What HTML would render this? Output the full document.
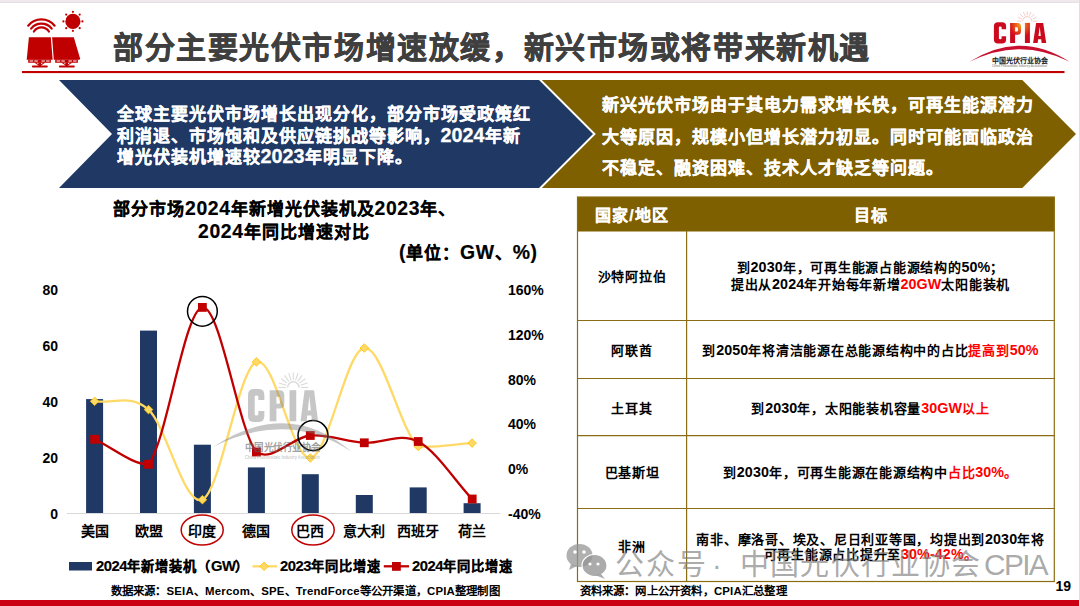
<!DOCTYPE html>
<html lang="zh-CN">
<head>
<meta charset="utf-8">
<style>
html,body{margin:0;padding:0;}
body{width:1080px;height:606px;overflow:hidden;position:relative;background:#fff;font-family:"Liberation Sans",sans-serif;font-weight:bold;color:#000;}
.a{position:absolute;white-space:nowrap;}
#title{left:113px;top:28px;font-size:30px;letter-spacing:1.58px;line-height:40px;color:#3f3f3f;-webkit-text-stroke:0.6px #3f3f3f;}
.bl{position:absolute;white-space:nowrap;left:116.5px;font-size:17px;letter-spacing:1px;line-height:22px;color:#fff;-webkit-text-stroke:0.3px #fff;}
.gl{position:absolute;white-space:nowrap;left:601.5px;font-size:17px;letter-spacing:1px;line-height:22px;color:#fff;-webkit-text-stroke:0.3px #fff;}
.ct{position:absolute;white-space:nowrap;font-size:17px;letter-spacing:1px;line-height:20px;color:#000;-webkit-text-stroke:0.2px #000;}
.yl{position:absolute;white-space:nowrap;font-size:14px;line-height:16px;color:#000;}
.yr{position:absolute;white-space:nowrap;font-size:14px;line-height:16px;color:#000;left:508px;}
.cl{position:absolute;white-space:nowrap;font-size:14px;line-height:16px;top:523px;width:60px;text-align:center;color:#000;}
.lg{position:absolute;white-space:nowrap;font-size:13.2px;letter-spacing:1px;line-height:18px;top:558px;color:#000;-webkit-text-stroke:0.2px #000;}
.src{position:absolute;white-space:nowrap;font-size:11.4px;letter-spacing:0.2px;line-height:14px;color:#000;}
.th{position:absolute;white-space:nowrap;font-size:16px;letter-spacing:1px;line-height:18px;color:#fff;text-align:center;-webkit-text-stroke:0.25px #fff;}
.tc{position:absolute;white-space:nowrap;font-size:13px;letter-spacing:0.75px;line-height:17px;color:#000;text-align:center;}
.r{color:#ff0000;}
.db{line-height:0;font-size:19.8px;letter-spacing:0px;}
.dc{line-height:0;font-size:19.4px;letter-spacing:0.6px;}
.dt{line-height:0;font-size:14.3px;letter-spacing:0.1px;}
.dl{line-height:0;font-size:14.8px;letter-spacing:-0.5px;}

.wm{position:absolute;white-space:nowrap;font-size:29px;line-height:32px;color:rgba(128,128,128,0.68);font-weight:normal;top:548.5px;}
</style>
</head>
<body>
<!-- top and right frame strips -->
<div class="a" style="left:0;top:0;width:1080px;height:2px;background:#efe9ed;"></div>
<div class="a" style="left:0;top:2px;width:1080px;height:1px;background:#e6e0e3;"></div>
<div class="a" style="left:1079px;top:0;width:1px;height:606px;background:#e2dde0;"></div>

<svg width="1080" height="606" viewBox="0 0 1080 606" style="position:absolute;left:0;top:0">
  <defs>
    <radialGradient id="cpg" cx="1021" cy="25" r="17" gradientUnits="userSpaceOnUse">
      <stop offset="0" stop-color="#f7a51c"/>
      <stop offset="0.35" stop-color="#e8561a"/>
      <stop offset="0.7" stop-color="#d40c1e"/>
      <stop offset="1" stop-color="#cc0a1e"/>
    </radialGradient>
    <g id="cpia">
    <path fill-rule="evenodd" d="M997.9,22.2 H1002.1 Q1006.1,22.2 1006.1,26.2 V29.3 H1001.6 V27 Q1001.6,26.4 1000.2,26.4 Q998.9,26.4 998.9,27 V38.6 Q998.9,39.2 1000.2,39.2 Q1001.6,39.2 1001.6,38.6 V36.3 H1006.1 V39.4 Q1006.1,43.4 1002.1,43.4 H997.9 Q993.9,43.4 993.9,39.4 V26.2 Q993.9,22.2 997.9,22.2 Z"/>
    <path fill-rule="evenodd" d="M1010.1,22.9 H1017.5 Q1021,22.9 1021,26.4 V31.3 Q1021,34.8 1017.5,34.8 H1015.1 V43 H1010.1 Z M1015.1,27.2 V31.6 H1016.9 Q1017.9,31.6 1017.9,30.6 V28.2 Q1017.9,27.2 1016.9,27.2 Z"/>
    <rect x="1024.9" y="22.9" width="5" height="20.1"/>
    <path fill-rule="evenodd" d="M1036.1,22.9 H1043.2 L1046.2,43 H1041.6 L1041.2,39.3 H1038.1 L1037.7,43 H1033.1 Z M1038.5,36 H1040.8 L1039.7,26.8 Z"/>
    </g>
  </defs>
  <!-- header icon -->
  <g fill="#c00000">
    <circle cx="72.9" cy="21.4" r="7.6"/>
    <circle cx="72.9" cy="11.8" r="1.1"/><circle cx="82.4" cy="21.4" r="1.1"/>
    <circle cx="72.9" cy="30.8" r="1.1"/><circle cx="63.4" cy="21.4" r="1.1"/>
    <circle cx="66.2" cy="14.6" r="1.1"/><circle cx="79.7" cy="14.6" r="1.1"/>
    <circle cx="66.2" cy="28.2" r="1.1"/><circle cx="79.7" cy="28.2" r="1.1"/>
    <path d="M28.9,37.2 L50.8,37.2 L52.7,59.7 L26.7,59.7 Z"/>
    <path d="M52.1,37.2 L73.8,37.2 L80.1,58.6 L79.6,59.7 L53.8,59.7 Z"/>
    <path fill-rule="evenodd" d="M28.2,59.4 H50.9 V62.7 H28.2 Z M29.6,60.4 H33.2 V61.6 H29.6 Z M34.4,60.4 H37.8 V61.6 H34.4 Z M41.5,60.4 H44.9 V61.6 H41.5 Z M46.1,60.4 H49.6 V61.6 H46.1 Z"/>
    <path d="M34.2,62.5 L36.0,62.5 L39.9,65.2 L38.6,65.6 Z"/>
    <path d="M45.4,62.5 L43.6,62.5 L39.7,65.2 L41.0,65.6 Z"/>
    <rect x="38.3" y="62.5" width="2.8" height="3.5"/>
    <rect x="31.9" y="65.6" width="15.9" height="1.9" rx="0.9"/>
    <path fill-rule="evenodd" d="M55.2,59.4 H77.9 V62.7 H55.2 Z M56.6,60.4 H60.2 V61.6 H56.6 Z M61.4,60.4 H64.8 V61.6 H61.4 Z M68.5,60.4 H71.9 V61.6 H68.5 Z M73.1,60.4 H76.6 V61.6 H73.1 Z"/>
    <path d="M61.2,62.5 L63.0,62.5 L66.9,65.2 L65.6,65.6 Z"/>
    <path d="M72.4,62.5 L70.6,62.5 L66.7,65.2 L68.0,65.6 Z"/>
    <rect x="65.3" y="62.5" width="2.8" height="3.5"/>
    <rect x="58.9" y="65.6" width="15.9" height="1.9" rx="0.9"/>
  </g>
  <g fill="none" stroke="#c00000" stroke-width="2.2" stroke-linecap="round">
    <path d="M28.2,25.7 A17,17 0 0 1 54.6,25.7"/>
    <path d="M31.1,28.6 A13,13 0 0 1 51.7,28.6"/>
    <path d="M33.9,31.5 A9,9 0 0 1 48.9,31.5"/>
  </g>
  <!-- title underline -->
  <rect x="22" y="71" width="1042.5" height="2.1" fill="#c00000"/>

  <!-- CPIA logo -->
  <g stroke="#ec9a9a" stroke-width="0.6" fill="none" opacity="0.85">
    <path d="M1022.6,21.2 A4.6,4.6 0 0 1 1031.8,21.2"/>
    <line x1="1021.4" y1="21.2" x2="1017.2" y2="21.2"/>
    <line x1="1021.8" y1="19.0" x2="1018.0" y2="17.4"/>
    <line x1="1023.1" y1="17.1" x2="1020.1" y2="14.1"/>
    <line x1="1025.0" y1="15.8" x2="1023.4" y2="12.0"/>
    <line x1="1027.2" y1="15.4" x2="1027.2" y2="11.2"/>
    <line x1="1029.4" y1="15.8" x2="1031.0" y2="12.0"/>
    <line x1="1031.3" y1="17.1" x2="1034.3" y2="14.1"/>
    <line x1="1032.6" y1="19.0" x2="1036.4" y2="17.4"/>
    <line x1="1033.0" y1="21.2" x2="1037.2" y2="21.2"/>
  </g>
  <use href="#cpia" fill="url(#cpg)"/>
  <path d="M969.5,61.8 Q1020,29.5 1069.8,61.8 Q1020,36.5 969.5,61.8 Z" fill="#c8102e"/>
  <text x="991.5" y="62.5" font-family="Liberation Sans" font-weight="bold" font-size="7" textLength="56" lengthAdjust="spacingAndGlyphs" fill="#222">中国光伏行业协会</text>
  <text x="992" y="66.8" font-family="Liberation Sans" font-size="3" textLength="55" lengthAdjust="spacingAndGlyphs" fill="#999">China Photovoltaic Industry Association</text>

  <!-- banners -->
  <polygon points="541.8,80 1022.3,80 1076,134 1022.3,188 541.8,188 595.8,134" fill="#7f6000"/>
  <polygon points="59,80 539,80 593,134 539,188 59,188 112,134" fill="#1f3864"/>

  <!-- chart -->
<rect x="86.1" y="399.1" width="17" height="114.4" fill="#1f3864"/>
<rect x="140.0" y="330.6" width="17" height="182.9" fill="#1f3864"/>
<rect x="193.9" y="444.7" width="17" height="68.8" fill="#1f3864"/>
<rect x="247.9" y="467.4" width="17" height="46.1" fill="#1f3864"/>
<rect x="301.8" y="474.2" width="17" height="39.3" fill="#1f3864"/>
<rect x="355.8" y="495.0" width="17" height="18.5" fill="#1f3864"/>
<rect x="409.7" y="487.4" width="17" height="26.1" fill="#1f3864"/>
<rect x="463.6" y="503.2" width="17" height="10.3" fill="#1f3864"/>
<line x1="67" y1="513.5" x2="500" y2="513.5" stroke="#d9d9d9" stroke-width="1"/>
  <path d="M94.6,401.3 C112.5,404.1 130.5,393.2 148.5,409.6 C166.5,426.0 184.5,507.6 202.4,499.7 C220.4,491.8 238.4,368.8 256.4,361.9 C274.4,354.9 292.3,460.3 310.3,458.0 C328.3,455.7 346.3,349.9 364.3,348.0 C382.2,346.1 400.2,430.5 418.2,446.4 C434.2,447.9 454.2,444.2 472.1,443.1" fill="none" stroke="#ffd966" stroke-width="2.3"/>
  <path d="M94.6,439.3 C112.5,447.6 132.5,464.8 148.5,464.3 C166.5,442.3 184.5,309.4 202.4,307.4 C220.4,305.3 238.4,430.6 256.4,452.0 C271.4,463.0 292.3,437.0 310.3,435.5 C328.3,434.0 346.3,441.8 364.3,442.8 C382.2,443.8 400.2,432.1 418.2,441.5 C436.2,450.9 454.2,479.8 472.1,499.0" fill="none" stroke="#c00000" stroke-width="2.3"/>
<path d="M94.6,397.0 L98.9,401.3 L94.6,405.6 L90.3,401.3 Z" fill="#ffd966" stroke="#ffc000" stroke-width="0.8"/>
<path d="M148.5,405.3 L152.8,409.6 L148.5,413.9 L144.2,409.6 Z" fill="#ffd966" stroke="#ffc000" stroke-width="0.8"/>
<path d="M202.4,495.4 L206.8,499.7 L202.4,504.0 L198.1,499.7 Z" fill="#ffd966" stroke="#ffc000" stroke-width="0.8"/>
<path d="M256.4,357.6 L260.7,361.9 L256.4,366.2 L252.1,361.9 Z" fill="#ffd966" stroke="#ffc000" stroke-width="0.8"/>
<path d="M310.3,453.7 L314.6,458.0 L310.3,462.3 L306.0,458.0 Z" fill="#ffd966" stroke="#ffc000" stroke-width="0.8"/>
<path d="M364.3,343.7 L368.6,348.0 L364.3,352.3 L360.0,348.0 Z" fill="#ffd966" stroke="#ffc000" stroke-width="0.8"/>
<path d="M418.2,442.1 L422.5,446.4 L418.2,450.7 L413.9,446.4 Z" fill="#ffd966" stroke="#ffc000" stroke-width="0.8"/>
<path d="M472.1,438.8 L476.4,443.1 L472.1,447.4 L467.8,443.1 Z" fill="#ffd966" stroke="#ffc000" stroke-width="0.8"/>
<rect x="90.2" y="434.9" width="8.8" height="8.8" fill="#c00000"/>
<rect x="144.1" y="459.9" width="8.8" height="8.8" fill="#c00000"/>
<rect x="198.0" y="303.0" width="8.8" height="8.8" fill="#c00000"/>
<rect x="252.0" y="447.6" width="8.8" height="8.8" fill="#c00000"/>
<rect x="305.9" y="431.1" width="8.8" height="8.8" fill="#c00000"/>
<rect x="359.9" y="438.4" width="8.8" height="8.8" fill="#c00000"/>
<rect x="413.8" y="437.1" width="8.8" height="8.8" fill="#c00000"/>
<rect x="467.8" y="494.6" width="8.8" height="8.8" fill="#c00000"/>
  <circle cx="202.4" cy="311.3" r="14.9" fill="none" stroke="#000" stroke-width="1.5"/>
  <circle cx="313" cy="435.5" r="15" fill="none" stroke="#000" stroke-width="1.5"/>
  <!-- chart watermark (on top of chart) -->
  <g>
    <g stroke="rgba(150,150,150,0.35)" stroke-width="1.1" fill="none">
      <path d="M287.6,387.5 A5.7,5.7 0 0 1 299,387.5" stroke-width="1.5"/>
      <line x1="285.8" y1="387.5" x2="278.3" y2="387.5"/>
      <line x1="286.2" y1="385.2" x2="279.0" y2="382.9"/>
      <line x1="287.2" y1="383.1" x2="281.2" y2="378.7"/>
      <line x1="288.9" y1="381.4" x2="284.5" y2="375.4"/>
      <line x1="291.0" y1="380.4" x2="288.7" y2="373.2"/>
      <line x1="293.3" y1="380.0" x2="293.3" y2="372.5"/>
      <line x1="295.6" y1="380.4" x2="297.9" y2="373.2"/>
      <line x1="297.7" y1="381.4" x2="302.1" y2="375.4"/>
      <line x1="299.4" y1="383.1" x2="305.4" y2="378.7"/>
      <line x1="300.4" y1="385.2" x2="307.6" y2="382.9"/>
      <line x1="300.8" y1="387.5" x2="308.3" y2="387.5"/>
    </g>
    <use href="#cpia" transform="matrix(1.34,0,0,1.547,-1083.83,354.76)" fill="rgba(120,120,120,0.42)"/>
    <path d="M213,447 Q288,397 352,452 Q288,409 213,447 Z" fill="rgba(120,120,120,0.42)"/>
    <text x="244.5" y="451" font-family="Liberation Sans" font-weight="bold" font-size="10" textLength="76" lengthAdjust="spacingAndGlyphs" fill="rgba(100,100,100,0.62)">中国光伏行业协会</text>
    <text x="245" y="458.8" font-family="Liberation Sans" font-size="4.8" textLength="75" lengthAdjust="spacingAndGlyphs" fill="rgba(130,130,130,0.45)">China Photovoltaic Industry Association</text>
  </g>
  <ellipse cx="202.2" cy="530" rx="21" ry="15" fill="none" stroke="#c00000" stroke-width="1.5"/>
  <ellipse cx="313" cy="530" rx="21.2" ry="15" fill="none" stroke="#c00000" stroke-width="1.5"/>

  <!-- legend -->
  <rect x="69" y="562" width="23" height="8.5" fill="#1f3864"/>
  <line x1="252.5" y1="566.3" x2="277" y2="566.3" stroke="#ffd966" stroke-width="2.3"/>
  <path d="M264.1,562 L268.4,566.3 L264.1,570.6 L259.8,566.3 Z" fill="#ffd966" stroke="#ffc000" stroke-width="0.8"/>
  <line x1="383.8" y1="566.3" x2="409" y2="566.3" stroke="#c00000" stroke-width="2.3"/>
  <rect x="392" y="562" width="8.8" height="8.8" fill="#c00000"/>

  <!-- table -->
  <rect x="577" y="197" width="477.5" height="34.5" fill="#7f6000"/>
  <g stroke="#8a6d12" stroke-width="1.2" fill="none">
    <rect x="577.5" y="197" width="476.8" height="384.5"/>
    <line x1="686.6" y1="231" x2="686.6" y2="581.5"/>
    <line x1="577.5" y1="320.5" x2="1054.3" y2="320.5"/>
    <line x1="577.5" y1="378.5" x2="1054.3" y2="378.5"/>
    <line x1="577.5" y1="435.6" x2="1054.3" y2="435.6"/>
    <line x1="577.5" y1="508.5" x2="1054.3" y2="508.5"/>
  </g>

  <!-- bottom red bar -->
  <rect x="0" y="600" width="1079" height="6" fill="#cb0012"/>
</svg>

<div id="title" class="a">部分主要光伏市场增速放缓，新兴市场或将带来新机遇</div>

<div class="bl" style="top:104px">全球主要光伏市场增长出现分化，部分市场受政策红</div>
<div class="bl" style="top:125.7px">利消退、市场饱和及供应链挑战等影响，<span class="db">2024</span>年新</div>
<div class="bl" style="top:147.3px">增光伏装机增速较<span class="db">2023</span>年明显下降。</div>

<div class="gl" style="top:95px">新兴光伏市场由于其电力需求增长快，可再生能源潜力</div>
<div class="gl" style="top:126.6px">大等原因，规模小但增长潜力初显。同时可能面临政治</div>
<div class="gl" style="top:158.2px">不稳定、融资困难、技术人才缺乏等问题。</div>

<div class="ct" style="left:113px;top:200px">部分市场<span class="dc">2024</span>年新增光伏装机及<span class="dc">2023</span>年、</div>
<div class="ct" style="left:198px;top:222.5px"><span class="dc">2024</span>年同比增速对比</div>
<div class="ct" style="left:399px;top:244px"><span class="dc">(</span>单位：<span class="dc">GW</span>、<span class="dc">%)</span></div>

<div class="yl" style="right:1022px;top:282px">80</div>
<div class="yl" style="right:1022px;top:338px">60</div>
<div class="yl" style="right:1022px;top:394px">40</div>
<div class="yl" style="right:1022px;top:450px">20</div>
<div class="yl" style="right:1022px;top:505.5px">0</div>

<div class="yr" style="top:282px">160%</div>
<div class="yr" style="top:327px">120%</div>
<div class="yr" style="top:371.5px">80%</div>
<div class="yr" style="top:416px">40%</div>
<div class="yr" style="top:461px">0%</div>
<div class="yr" style="top:505.5px">-40%</div>

<div class="cl" style="left:64.6px">美国</div>
<div class="cl" style="left:118.5px">欧盟</div>
<div class="cl" style="left:172.4px">印度</div>
<div class="cl" style="left:226.4px">德国</div>
<div class="cl" style="left:280.3px">巴西</div>
<div class="cl" style="left:334.3px">意大利</div>
<div class="cl" style="left:388.2px">西班牙</div>
<div class="cl" style="left:442.1px">荷兰</div>

<div class="lg" style="left:96px"><span class="dl">2024</span>年新增装机（<span class="dl">GW</span>）</div>
<div class="lg" style="left:280px"><span class="dl">2023</span>年同比增速</div>
<div class="lg" style="left:412px"><span class="dl">2024</span>年同比增速</div>

<div class="src" style="left:110.5px;top:583.5px">数据来源：SEIA、Mercom、SPE、TrendForce等公开渠道，CPIA整理制图</div>

<div class="th" style="left:577px;width:110px;top:207px">国家/地区</div>
<div class="th" style="left:687px;width:367px;top:207px">目标</div>

<div class="tc" style="left:577px;width:110px;top:268px">沙特阿拉伯</div>
<div class="tc" style="left:687px;width:367px;top:259px">到<span class="dt">2030</span>年，可再生能源占能源结构的<span class="dt">50%</span>；</div>
<div class="tc" style="left:687px;width:367px;top:276px">提出从<span class="dt">2024</span>年开始每年新增<span class="r"><span class="dt">20GW</span></span>太阳能装机</div>

<div class="tc" style="left:577px;width:110px;top:342px">阿联酋</div>
<div class="tc" style="left:687px;width:367px;top:342px">到<span class="dt">2050</span>年将清洁能源在总能源结构中的占比<span class="r">提高到<span class="dt">50%</span></span></div>

<div class="tc" style="left:577px;width:110px;top:399.5px">土耳其</div>
<div class="tc" style="left:687px;width:367px;top:399.5px">到<span class="dt">2030</span>年，太阳能装机容量<span class="r"><span class="dt">30GW</span>以上</span></div>

<div class="tc" style="left:577px;width:110px;top:464px">巴基斯坦</div>
<div class="tc" style="left:687px;width:367px;top:464px">到<span class="dt">2030</span>年，可再生能源在能源结构中<span class="r">占比<span class="dt">30%</span>。</span></div>

<div class="tc" style="left:577px;width:110px;top:537.5px">非洲</div>
<div class="tc" style="left:687px;width:367px;top:530.5px">南非、摩洛哥、埃及、尼日利亚等国，均提出到<span class="dt">2030</span>年将</div>
<div class="tc" style="left:687px;width:367px;top:546px">可再生能源占比提升至<span class="r"><span class="dt">30%-42%</span>。</span></div>

<div class="src" style="left:579.5px;top:584px">资料来源：网上公开资料，CPIA汇总整理</div>
<div class="a" style="left:1055.5px;top:578px;font-size:14px;line-height:16px;">19</div>

<!-- wechat watermark -->
<svg width="60" height="40" viewBox="0 0 60 40" style="position:absolute;left:565px;top:540px">
  <g fill="rgba(150,150,150,0.75)">
    <ellipse cx="14.5" cy="15.5" rx="13" ry="11.5"/>
    <path d="M6,24 L4,30 L12,26 Z"/>
  </g>
  <g fill="rgba(150,150,150,0.8)" stroke="#fff" stroke-width="1.2">
    <ellipse cx="29.5" cy="25.5" rx="12.5" ry="11"/>
  </g>
  <path d="M36,34 L40,39 L30,35 Z" fill="rgba(150,150,150,0.8)"/>
  <g fill="#fff">
    <circle cx="10" cy="12" r="1.8"/><circle cx="19" cy="12" r="1.8"/>
    <circle cx="25" cy="24" r="1.6"/><circle cx="33" cy="24" r="1.6"/>
  </g>
</svg>
<div class="wm" style="left:615px;letter-spacing:2.2px">公众号</div>
<div class="wm" style="left:712px;">·</div>
<div class="wm" style="left:740px;letter-spacing:1.2px">中国光伏行业协会</div>
<div class="wm" style="left:984px;letter-spacing:-1.6px;font-size:29.8px">CPIA</div>
</body>
</html>
